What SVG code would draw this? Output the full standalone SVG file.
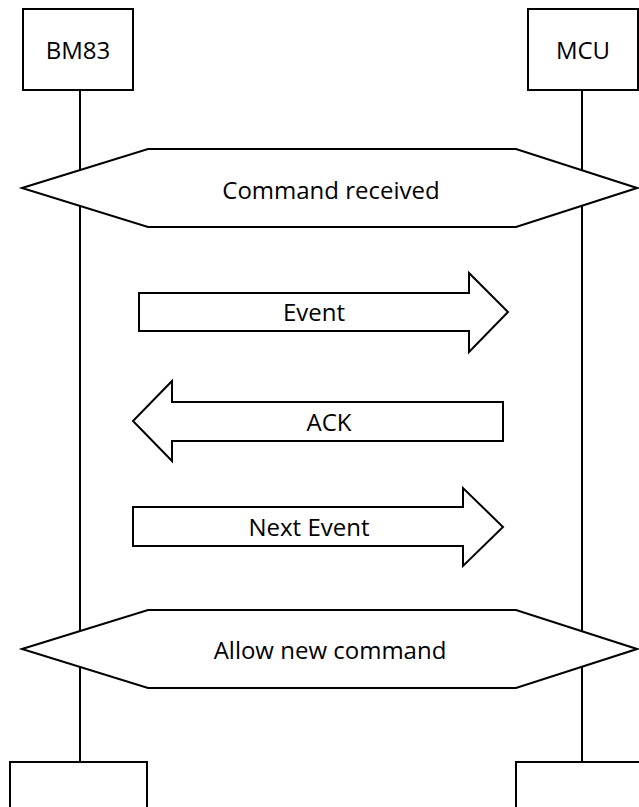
<svg xmlns="http://www.w3.org/2000/svg" width="639" height="807" viewBox="0 0 639 807">
<style>
.s{fill:#fff;stroke:#000;stroke-width:2}
.l{stroke:#000;stroke-width:2;fill:none}
.t{font-family:"Open Sans","Noto Sans",sans-serif;font-size:24px;fill:#000;text-anchor:middle;dominant-baseline:central}
</style>
<rect width="639" height="807" fill="#fff"/>
<g id="connectors">
<line class="l" x1="80" y1="90" x2="80" y2="762"/>
<line class="l" x1="582" y1="90" x2="582" y2="762"/>
</g>
<g id="bm83"><rect class="s" x="23" y="9" width="110" height="81"/><text class="t" x="78" y="49">BM83</text></g>
<g id="mcu"><rect class="s" x="528" y="9" width="110" height="81"/><text class="t" x="583" y="49">MCU</text></g>
<g id="cmd"><polygon class="s" points="22,188 148,149 516,149 637,188 516,227 148,227"/><text class="t" x="331" y="189">Command received</text></g>
<g id="event"><polygon class="s" points="139,293 469,293 469,273 508,312 469,352 469,331 139,331"/><text class="t" x="314" y="311">Event</text></g>
<g id="ack"><polygon class="s" points="503,402 172,402 172,381 133,421 172,461 172,441 503,441"/><text class="t" x="329" y="421">ACK</text></g>
<g id="next"><polygon class="s" points="133,507 463,507 463,488 503,527 463,566 463,546 133,546"/><text class="t" x="309" y="526">Next Event</text></g>
<g id="allow"><polygon class="s" points="22,649 148,610 516,610 637,649 516,688 148,688"/><text class="t" x="330" y="649">Allow new command</text></g>
<g id="bm83-end"><rect class="s" x="10" y="762" width="137" height="50"/></g>
<g id="mcu-end"><rect class="s" x="516" y="762" width="130" height="50"/></g>
</svg>
